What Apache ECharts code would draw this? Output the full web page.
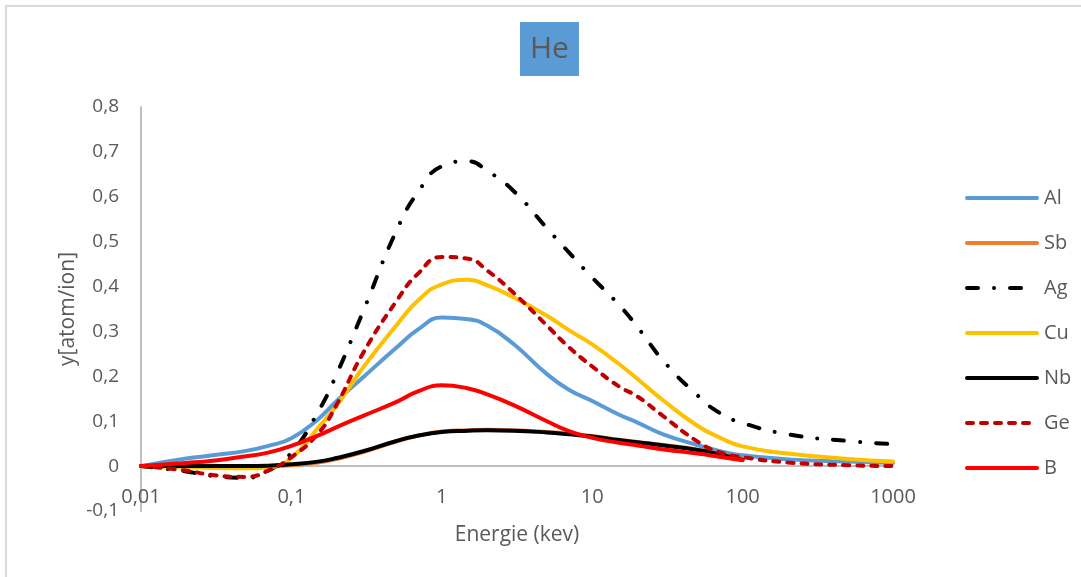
<!DOCTYPE html>
<html>
<head>
<meta charset="utf-8">
<script src="https://cdn.jsdelivr.net/npm/echarts@6/dist/echarts.min.js"></script>
<style>
html,body{margin:0;padding:0;background:#fff;}
#chart{width:1081px;height:577px;}
</style>
</head>
<body>
<div id="chart"></div>
<script>
const energies = [0.01, 0.02, 0.03, 0.05, 0.07, 0.1, 0.15, 0.2, 0.3, 0.5, 0.7, 1, 1.5, 2, 3, 5, 7, 10, 15, 20, 30, 50, 70, 100, 200, 500, 1000];
const Al = [0, 0.017, 0.024, 0.034, 0.045, 0.062, 0.104, 0.145, 0.198, 0.264, 0.305, 0.331, 0.327, 0.313, 0.272, 0.205, 0.17, 0.145, 0.115, 0.097, 0.07, 0.047, 0.034, 0.024, 0.015, 0.01, 0.007];
const Sb = [0, 0, -0.001, -0.001, 0, 0.002, 0.008, 0.016, 0.031, 0.055, 0.068, 0.077, 0.080, 0.081, 0.080, 0.076, 0.072, 0.067, 0.059, 0.054, 0.047, 0.037, 0.027, 0.016];
const Ag = [0, -0.012, -0.022, -0.026, -0.01, 0.03, 0.12, 0.205, 0.345, 0.525, 0.612, 0.668, 0.679, 0.658, 0.613, 0.53, 0.476, 0.42, 0.36, 0.31, 0.233, 0.158, 0.119, 0.096, 0.071, 0.056, 0.049];
const Cu = [0, -0.002, -0.004, -0.005, -0.003, 0.018, 0.085, 0.135, 0.22, 0.314, 0.37, 0.405, 0.415, 0.403, 0.376, 0.335, 0.303, 0.271, 0.228, 0.194, 0.145, 0.09, 0.064, 0.044, 0.028, 0.016, 0.01];
const Nb = [0, 0, 0, 0, 0.001, 0.004, 0.01, 0.018, 0.033, 0.056, 0.068, 0.076, 0.079, 0.08, 0.079, 0.075, 0.071, 0.066, 0.058, 0.053, 0.046, 0.036, 0.026, 0.014];
const Ge = [0, -0.01, -0.02, -0.024, -0.01, 0.02, 0.072, 0.137, 0.252, 0.368, 0.43, 0.466, 0.462, 0.436, 0.386, 0.313, 0.265, 0.222, 0.178, 0.155, 0.11, 0.055, 0.031, 0.02, 0.008, 0.002, 0];
const B = [0, 0.007, 0.012, 0.022, 0.03, 0.045, 0.068, 0.087, 0.112, 0.143, 0.167, 0.18, 0.173, 0.16, 0.136, 0.1, 0.078, 0.063, 0.052, 0.046, 0.037, 0.028, 0.021, 0.013];

const seriesNames = ['Al', 'Sb', 'Ag', 'Cu', 'Nb', 'Ge', 'B'];
const seriesValues = [Al, Sb, Ag, Cu, Nb, Ge, B];
const seriesStyles = [
  {color: '#5B9BD5', width: 4, type: 'solid', cap: 'round'},
  {color: '#ED7D31', width: 4, type: 'solid', cap: 'round'},
  {color: '#000000', width: 4, type: [11, 16, 0.01, 16], cap: 'round'},
  {color: '#FFC000', width: 4, type: 'solid', cap: 'round'},
  {color: '#000000', width: 4, type: 'solid', cap: 'round'},
  {color: '#C00000', width: 4, type: [6, 8], cap: 'round'},
  {color: '#FF0000', width: 4, type: 'solid', cap: 'round'}
];

const FONT = '"Open Sans", "Noto Sans", sans-serif';
const fmt = v => String(+(+v).toPrecision(6)).replace('.', ',');

const chart = echarts.init(document.getElementById('chart'), null, {renderer: 'canvas'});
const series = seriesNames.map((name, i) => ({
  name: name,
  type: 'line',
  smooth: 0.5,
  symbol: 'none',
  data: seriesValues[i].map((v, j) => [energies[j], v]),
  lineStyle: seriesStyles[i],
  itemStyle: {color: seriesStyles[i].color},
  z: 3 + i
}));
// zero line (x-axis crossing at y = 0)
series[0].markLine = {
  silent: true,
  symbol: 'none',
  label: {show: false},
  z: 1,
  lineStyle: {color: '#BFBFBF', width: 2, type: 'solid'},
  data: [{yAxis: 0}]
};

chart.setOption({
  animation: false,
  backgroundColor: '#ffffff',
  graphic: [{
    type: 'rect',
    shape: {x: 6, y: 6, width: 1100, height: 600},
    style: {fill: 'none', stroke: '#D9D9D9', lineWidth: 2},
    silent: true
  }],
  title: {
    text: 'He',
    left: 520,
    top: 22,
    backgroundColor: '#5B9BD5',
    padding: [8, 10, 8, 10],
    textStyle: {color: '#595959', fontSize: 30, fontWeight: 'normal', fontFamily: FONT, lineHeight: 38}
  },
  legend: {
    orient: 'vertical',
    left: 960,
    top: 183,
    itemWidth: 70,
    itemHeight: 20,
    itemGap: 25,
    itemStyle: {color: 'rgba(0,0,0,0)', borderWidth: 0, opacity: 0},
    lineStyle: {width: 4},
    textStyle: {color: '#595959', fontSize: 20, fontFamily: FONT, padding: [0, 0, 0, 2]},
    data: seriesNames
  },
  grid: {left: 141, right: 188, top: 107, bottom: 66, containLabel: false, outerBoundsMode: 'none'},
  xAxis: {
    type: 'log',
    logBase: 10,
    min: 0.01,
    max: 1000,
    name: 'Energie (kev)',
    nameLocation: 'middle',
    nameGap: 14,
    nameMoveOverlap: false,
    nameTextStyle: {color: '#595959', fontSize: 21, fontFamily: FONT},
    axisLine: {show: false, onZero: false},
    axisTick: {show: false},
    splitLine: {show: false},
    minorTick: {show: false},
    axisLabel: {color: '#595959', fontSize: 20, fontFamily: FONT, margin: -24, formatter: fmt, showMinLabel: true, showMaxLabel: true}
  },
  yAxis: {
    type: 'value',
    min: -0.1,
    max: 0.8,
    interval: 0.1,
    name: 'y[atom/ion]',
    nameLocation: 'middle',
    nameGap: 62,
    nameMoveOverlap: false,
    nameTextStyle: {color: '#595959', fontSize: 21, fontFamily: FONT},
    axisLine: {show: true, onZero: false, lineStyle: {color: '#BFBFBF', width: 2}},
    axisTick: {show: false},
    splitLine: {show: false},
    axisLabel: {color: '#595959', fontSize: 19, fontFamily: FONT, margin: 22, formatter: fmt}
  },
  series: series
});
</script>
</body>
</html>
